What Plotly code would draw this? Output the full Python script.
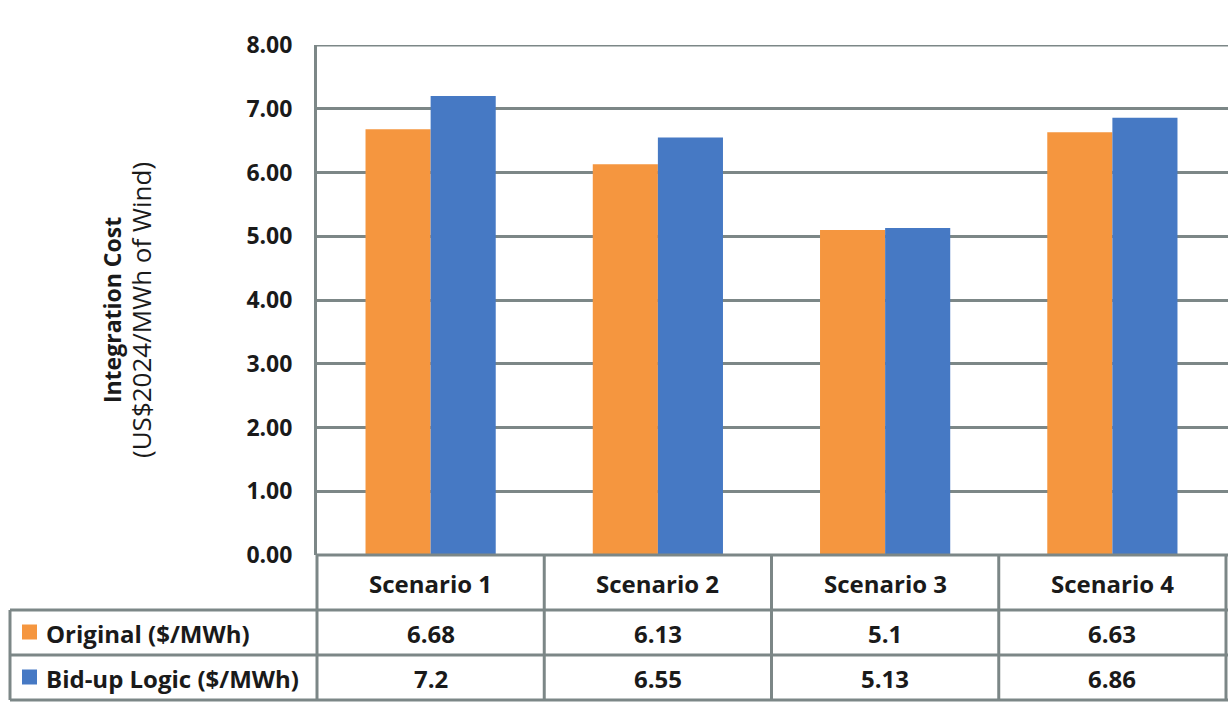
import plotly.graph_objects as go

categories = ["Scenario 1", "Scenario 2", "Scenario 3", "Scenario 4"]
original = [6.68, 6.13, 5.1, 6.63]
bidup = [7.2, 6.55, 5.13, 6.86]
original_labels = ["6.68", "6.13", "5.1", "6.63"]
bidup_labels = ["7.2", "6.55", "5.13", "6.86"]
series_names = ["Original ($/MWh)", "Bid-up Logic ($/MWh)"]
y_title_main = "Integration Cost"
y_title_sub = "(US$2024/MWh of Wind)"
y_max = 8

ORANGE = "#F5963F"
BLUE = "#4679C4"
GRID = "#7C8787"
TXT = "#1A1A1A"
FONT = "Open Sans"
W, H = 1228, 704

def px(x):
    return x / W

def py(y):
    return 1 - y / H

X0, X1 = 317, 1226
Y_TOP, Y_BOT = 45, 555

fig = go.Figure()
fig.add_trace(go.Bar(x=categories, y=original, name=series_names[0], marker_color=ORANGE, marker_line_width=0))
fig.add_trace(go.Bar(x=categories, y=bidup, name=series_names[1], marker_color=BLUE, marker_line_width=0))

shapes = []
def line(x0, y0, x1, y1):
    shapes.append(dict(type="line", xref="paper", yref="paper", x0=px(x0), y0=py(y0), x1=px(x1), y1=py(y1),
                       line=dict(color=GRID, width=3)))

# top gridline at axis max
shapes.append(dict(type="line", xref="paper", yref="y", x0=px(X0), x1=1, y0=y_max, y1=y_max,
                   line=dict(color=GRID, width=3)))

# table grid
row_y = [555, 610, 655, 700]
line(X0, 555, W, 555)
for yy in row_y[1:]:
    line(10, yy, W, yy)
col_x = [X0 + i * (X1 - X0) / len(categories) for i in range(len(categories) + 1)]
for xx in col_x:
    line(xx, 555, xx, 700)
line(10, 610, 10, 700)

annotations = []
col_centers = [(col_x[i] + col_x[i + 1]) / 2 for i in range(len(categories))]
row_centers = [(row_y[i] + row_y[i + 1]) / 2 for i in range(3)]
txt_font = dict(family=FONT, size=24, color=TXT)

def ann(x, y, text, xanchor="center", **kw):
    annotations.append(dict(x=px(x), y=py(y), xref="paper", yref="paper", text=text, showarrow=False,
                            xanchor=xanchor, yanchor="middle", **kw))

for i, c in enumerate(categories):
    ann(col_centers[i], row_centers[0] + 1, "<b>%s</b>" % c, font=txt_font)
    ann(col_centers[i], row_centers[1] + 1, "<b>%s</b>" % original_labels[i], font=txt_font)
    ann(col_centers[i], row_centers[2] + 1, "<b>%s</b>" % bidup_labels[i], font=txt_font)

for r, (name, col) in enumerate(zip(series_names, [ORANGE, BLUE])):
    cy = row_centers[r + 1]
    shapes.append(dict(type="rect", xref="paper", yref="paper", x0=px(22), x1=px(37), y0=py(cy + 7), y1=py(cy - 8),
                       fillcolor=col, line=dict(width=0)))
    ann(44, cy + 1, "<b>%s</b>" % name, xanchor="left", font=txt_font)

ann(127, 310, "<b>%s</b><br><span style='font-size:26px'>%s</span>" % (y_title_main, y_title_sub),
    textangle=-90, font=dict(family=FONT, size=23, color=TXT))

fig.update_layout(
    width=W, height=H, template="none",
    margin=dict(l=0, r=0, t=0, b=0, autoexpand=False),
    paper_bgcolor="white", plot_bgcolor="white",
    barmode="group", bargap=0.427, bargroupgap=0,
    showlegend=False,
    shapes=shapes, annotations=annotations,
    xaxis=dict(domain=[px(X0), 1], range=[-0.5, len(categories) - 0.5 + (W - X1) / ((X1 - X0) / len(categories))],
               showticklabels=False, showgrid=False, zeroline=False, showline=False, ticks="", automargin=False),
    yaxis=dict(domain=[py(Y_BOT), py(Y_TOP)], range=[0, y_max], dtick=1, tickformat=".2f",
               showgrid=True, gridcolor=GRID, gridwidth=3, zeroline=False, automargin=False,
               showline=True, linecolor=GRID, linewidth=3, ticks="", ticklabelstandoff=17,
               tickfont=dict(family=FONT, size=23, color=TXT, weight="bold")),
)

fig.write_html("out.html", config={"displayModeBar": False},
               post_script="document.body.style.margin='0';document.body.style.overflow='hidden';")
